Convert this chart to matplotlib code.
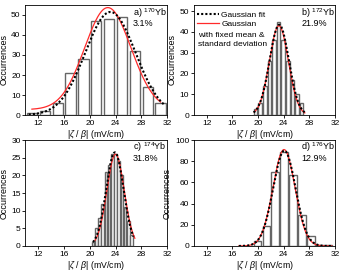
import numpy as np
import matplotlib
matplotlib.use('Agg')
import matplotlib.pyplot as plt
from matplotlib.lines import Line2D

plt.rcParams['font.family'] = ['Liberation Sans', 'DejaVu Sans']
plt.rcParams['mathtext.fontset'] = 'custom'
plt.rcParams['mathtext.rm'] = 'Liberation Sans'
plt.rcParams['mathtext.it'] = 'Liberation Sans:italic'
plt.rcParams['font.size'] = 6

# histogram data (bin centres, counts, bin width)
centers_a = [11, 13, 15, 17, 19, 21, 23, 25, 27, 29, 31]
counts_a = [1, 2, 6, 21, 28, 47, 48, 49, 32, 14, 6]
width_a = 2.0

centers_b = [19.6, 20.32, 21.04, 21.76, 22.48, 23.2, 23.92, 24.64, 25.36, 26.08, 26.8]
counts_b = [3, 6, 14, 26, 36, 45, 36, 26, 17, 10, 6]
width_b = 0.72

centers_c = [20.5, 21.0, 21.5, 22.0, 22.5, 23.0, 23.5, 24.0, 24.5, 25.0, 25.5, 26.0, 26.5]
counts_c = [1, 5, 8, 12, 21, 23, 26, 26, 24, 20, 11, 7, 3]
width_c = 0.5

centers_d = [19.85, 21.25, 22.65, 24.05, 25.45, 26.85, 28.25, 29.65, 31.05]
counts_d = [5, 19, 70, 89, 67, 29, 9, 1, 1]
width_d = 1.4

# gaussian parameters: amplitude, mean, sigma, offset, x start, x end
fit_a = [51.5, 23.2, 3.9, 0.0, 10.5, 31.5]
fixed_a = [51.0, 22.8, 3.6, 2.7, 11.0, 31.0]
fit_b = [43.5, 23.3, 1.5, 0.0, 19.3, 27.3]
fixed_b = [43.0, 23.25, 1.48, 0.0, 19.4, 27.3]
fit_c = [26.5, 23.9, 1.35, 0.0, 20.5, 26.8]
fixed_c = [26.0, 24.0, 1.35, 0.0, 20.8, 27.0]
fit_d = [90.0, 24.1, 1.75, 0.0, 17.0, 31.5]
fixed_d = [91.0, 24.05, 1.72, 0.0, 17.0, 31.5]

isotopes = ['a) $^{170}$Yb', 'b) $^{172}$Yb', 'c) $^{174}$Yb', 'd) $^{176}$Yb']
abundances = ['3.1%', '21.9%', '31.8%', '12.9%']
ylims = [55, 53, 30, 100]
yticks = [[0, 10, 20, 30, 40, 50], [0, 10, 20, 30, 40, 50],
          [0, 5, 10, 15, 20, 25, 30], [0, 20, 40, 60, 80, 100]]

panels = [
    (centers_a, counts_a, width_a, fit_a, fixed_a),
    (centers_b, counts_b, width_b, fit_b, fixed_b),
    (centers_c, counts_c, width_c, fit_c, fixed_c),
    (centers_d, counts_d, width_d, fit_d, fixed_d),
]

positions = [
    [0.0743, 0.5756, 0.4126, 0.406],
    [0.5656, 0.5756, 0.411, 0.406],
    [0.0743, 0.0923, 0.4126, 0.391],
    [0.5656, 0.0923, 0.411, 0.391],
]


def gauss(p):
    x = np.linspace(p[4], p[5], 300)
    return x, p[3] + p[0] * np.exp(-(x - p[1]) ** 2 / (2 * p[2] ** 2))


fig = plt.figure(figsize=(3.43, 2.71), dpi=100)

for i, (cen, cnt, w, fit, fixed) in enumerate(panels):
    ax = fig.add_axes(positions[i])
    ax.bar(cen, cnt, width=0.8 * w, facecolor='white', edgecolor='#666666', linewidth=1.0)
    xf, yf = gauss(fixed)
    ax.plot(xf, yf, color='#ff2a2a', lw=0.9)
    xg, yg = gauss(fit)
    ax.plot(xg, yg, color='black', lw=1.5, ls=(0, (1, 1)))

    ax.set_xlim(10, 32)
    ax.set_xticks([12, 16, 20, 24, 28, 32])
    ax.set_ylim(0, ylims[i])
    ax.set_yticks(yticks[i])
    ax.tick_params(length=2, width=0.6, pad=1.5, labelsize=6)
    for s in ax.spines.values():
        s.set_linewidth(0.6)
    ax.set_xlabel(r'$|\zeta\ /\ \beta|$ (mV/cm)', labelpad=0.5, fontsize=6.3)
    ax.set_ylabel('Occurrences', labelpad=2, fontsize=6.5)

    ax.text(0.76, 0.93, isotopes[i], transform=ax.transAxes, ha='left', va='center', fontsize=6.5)
    ax.text(0.76, 0.83, abundances[i], transform=ax.transAxes, ha='left', va='center', fontsize=6.5)

    if i == 1:
        handles = [Line2D([], [], color='black', lw=1.5, ls=(0, (1, 1))),
                   Line2D([], [], color='#ff2a2a', lw=0.9)]
        ax.legend(handles, ['Gaussian fit', 'Gaussian'], loc='upper left',
                  frameon=False, fontsize=6, handlelength=2.6, handletextpad=0.3,
                  labelspacing=0.2, borderaxespad=0.3, bbox_to_anchor=(-0.02, 1.0))
        ax.text(0.03, 0.68, 'with fixed mean &\nstandard deviation', transform=ax.transAxes,
                ha='left', va='center', fontsize=6, linespacing=1.4)

fig.savefig('out.png', dpi=100)
